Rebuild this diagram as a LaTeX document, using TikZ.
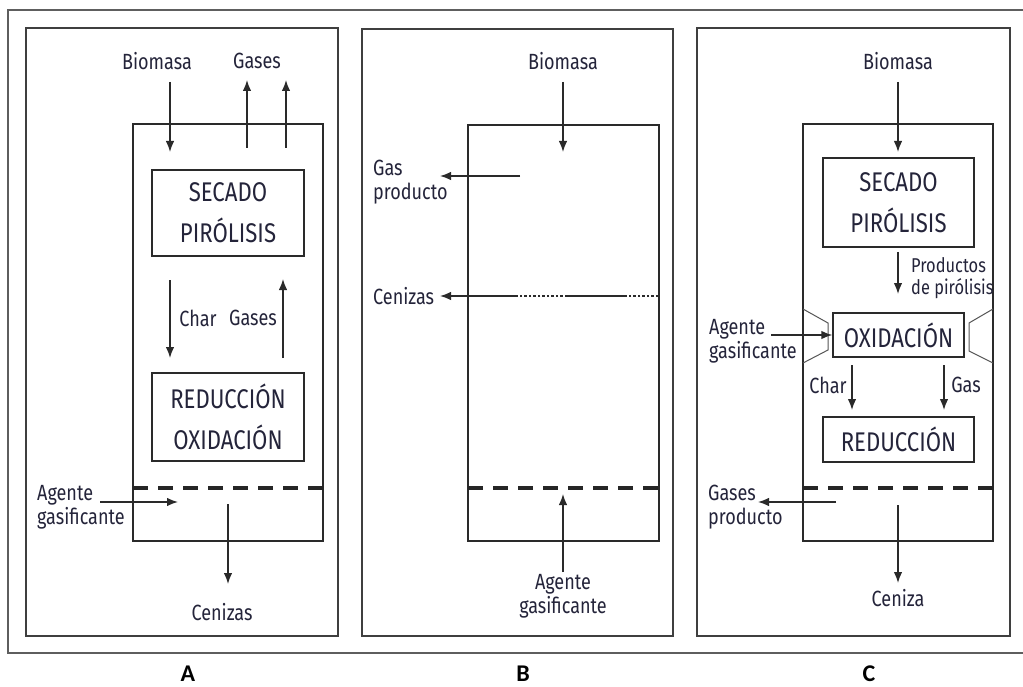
\documentclass[tikz,border=0pt]{standalone}
\usepackage{fontspec}
\setmainfont{Fira Sans}[FakeStretch=0.82]
\newfontfamily\labfont{Carlito}
\usetikzlibrary{arrows.meta}
\definecolor{txt}{HTML}{24243A}
\definecolor{ln}{HTML}{2A2A2A}
\definecolor{fr}{HTML}{5E5E5E}
\begin{document}
\begin{tikzpicture}[x=1pt,y=-1pt,
  lbl/.style={font=\fontsize{22}{24}\selectfont, text=txt, inner sep=0pt, align=left},
  stage/.style={draw=ln, line width=1.3pt, font=\fontsize{27}{41}\selectfont, text=txt, align=center, inner sep=0pt},
  arr/.style={draw=ln, line width=1.4pt, -{Latex[length=11pt,width=8.5pt]}},
  wall/.style={draw=ln, line width=1.3pt},
  dotseg/.style={draw=ln, line width=1.3pt, dash pattern=on 2.5pt off 2pt},
  throat/.style={draw=ln!80, line width=1pt},
  grate/.style={draw=black!85, line width=3.5pt, dash pattern=on 15pt off 10pt},
  panel/.style={draw=ln!90, line width=1.5pt},
  tag/.style={font=\labfont\bfseries\fontsize{24}{28}\selectfont, inner sep=0pt, anchor=base}
]
\useasboundingbox (0,0) rectangle (1023,687);
\fill[white] (0,0) rectangle (1023,687);

% outer frame (open on the right)
\draw[draw=fr, line width=2pt] (1023,10) -- (8,10) -- (8,653) -- (1023,653);

% panels
\draw[panel] (26,28) rectangle (338,636);
\draw[panel] (362,29) rectangle (673,636);
\draw[panel] (697,28) rectangle (1010,636);

% ===================== Panel A =====================
\draw[wall] (133,124) rectangle (323,541);
\node[stage, minimum width=152pt, minimum height=86pt] (secA) at (228,213) {SECADO\\PIRÓLISIS};
\node[stage, minimum width=152pt, minimum height=88pt] (redA) at (228,417) {REDUCCIÓN\\OXIDACIÓN};
\draw[grate] (133,488) -- (323,488);

\node[lbl] (bioA) at (157,61) {Biomasa};
\node[lbl] (gasA) at (257,61) {Gases};
\coordinate (bA1) at (170,82);  \coordinate (bA2) at (170,152);
\draw[arr] (bA1) -- (bA2);
\coordinate (gA1) at (247,148); \coordinate (gA2) at (247,80);
\coordinate (gA3) at (286,148); \coordinate (gA4) at (286,80);
\draw[arr] (gA1) -- (gA2);
\draw[arr] (gA3) -- (gA4);

\coordinate (cA1) at (170,280); \coordinate (cA2) at (170,358);
\draw[arr] (cA1) -- (cA2);
\coordinate (uA1) at (283,358); \coordinate (uA2) at (283,279);
\draw[arr] (uA1) -- (uA2);
\node[lbl] (charA) at (198,318) {Char};
\node[lbl] (gasesA) at (253,318) {Gases};

\node[lbl, anchor=west] (agA) at (37,507) {Agente\\gasificante};
\coordinate (aA1) at (100,502); \coordinate (aA2) at (178,502);
\draw[arr] (aA1) -- (aA2);

\coordinate (zA1) at (228,504); \coordinate (zA2) at (228,584);
\draw[arr] (zA1) -- (zA2);
\node[lbl] (cenA) at (222,612) {Cenizas};

\node[tag] (tA) at (188,681) {A};

% ===================== Panel B =====================
\draw[wall] (468,125) rectangle (659,541);
\node[lbl] (bioB) at (563,61) {Biomasa};
\coordinate (bB1) at (563,82);  \coordinate (bB2) at (563,152);
\draw[arr] (bB1) -- (bB2);

\node[lbl, anchor=west] (gpB) at (373,182) {Gas\\producto};
\coordinate (gB1) at (520,176); \coordinate (gB2) at (440,176);
\draw[arr] (gB1) -- (gB2);

\node[lbl, anchor=west] (cenB) at (373,296) {Cenizas};
\coordinate (cB0) at (658,296); \coordinate (cB1) at (625,296);
\coordinate (cB2) at (567,296); \coordinate (cB3) at (515,296);
\coordinate (cB4) at (440,296);
\draw[dotseg] (cB0) -- (cB1);
\draw[wall] (cB1) -- (cB2);
\draw[dotseg] (cB2) -- (cB3);
\draw[arr] (cB3) -- (cB4);

\draw[grate] (468,488) -- (659,488);
\coordinate (aB1) at (563,572); \coordinate (aB2) at (563,494);
\draw[arr] (aB1) -- (aB2);
\node[lbl, align=center] (agB) at (563,596) {Agente\\gasificante};

\node[tag] (tB) at (523,681) {B};

% ===================== Panel C =====================
\draw[wall] (803,124) rectangle (993,541);
\node[lbl] (bioC) at (898,61) {Biomasa};
\coordinate (bC1) at (898,82);  \coordinate (bC2) at (898,152);
\draw[arr] (bC1) -- (bC2);

\node[stage, minimum width=151pt, minimum height=89pt] (secC) at (898.5,202.5) {SECADO\\PIRÓLISIS};
\coordinate (pC1) at (898,252); \coordinate (pC2) at (898,294);
\draw[arr] (pC1) -- (pC2);
\node[lbl, anchor=west, font=\fontsize{20}{22}\selectfont] (prodC) at (911,278) {Productos\\de pirólisis};

% throat
\draw[throat] (803,309) -- (828,323) -- (828,350) -- (803,363);
\draw[throat] (993,309) -- (969,323) -- (969,351) -- (993,363);

\node[stage, minimum width=131pt, minimum height=44pt] (oxC) at (898.5,335) {OXIDACIÓN};
\node[lbl, anchor=west] (agC) at (709,341) {Agente\\gasificante};
\coordinate (aC1) at (771,335);
\draw[arr] (aC1) -- (oxC.west);

\coordinate (chC1) at (852,365); \coordinate (chC2) at (852,410);
\draw[arr] (chC1) -- (chC2);
\node[lbl] (charC) at (828,385) {Char};
\coordinate (gsC1) at (944,365); \coordinate (gsC2) at (944,410);
\draw[arr] (gsC1) -- (gsC2);
\node[lbl] (gasC) at (966,385) {Gas};

\node[stage, minimum width=151pt, minimum height=45pt] (redC) at (898.5,439.5) {REDUCCIÓN};
\draw[grate] (803,488) -- (993,488);

\node[lbl, anchor=west] (gpC) at (708,507) {Gases\\producto};
\coordinate (gpC1) at (836,502); \coordinate (gpC2) at (758,502);
\draw[arr] (gpC1) -- (gpC2);

\coordinate (zC1) at (898,505); \coordinate (zC2) at (898,583);
\draw[arr] (zC1) -- (zC2);
\node[lbl] (cenC) at (898,598) {Ceniza};

\node[tag] (tC) at (869,681) {C};
\end{tikzpicture}
\end{document}
